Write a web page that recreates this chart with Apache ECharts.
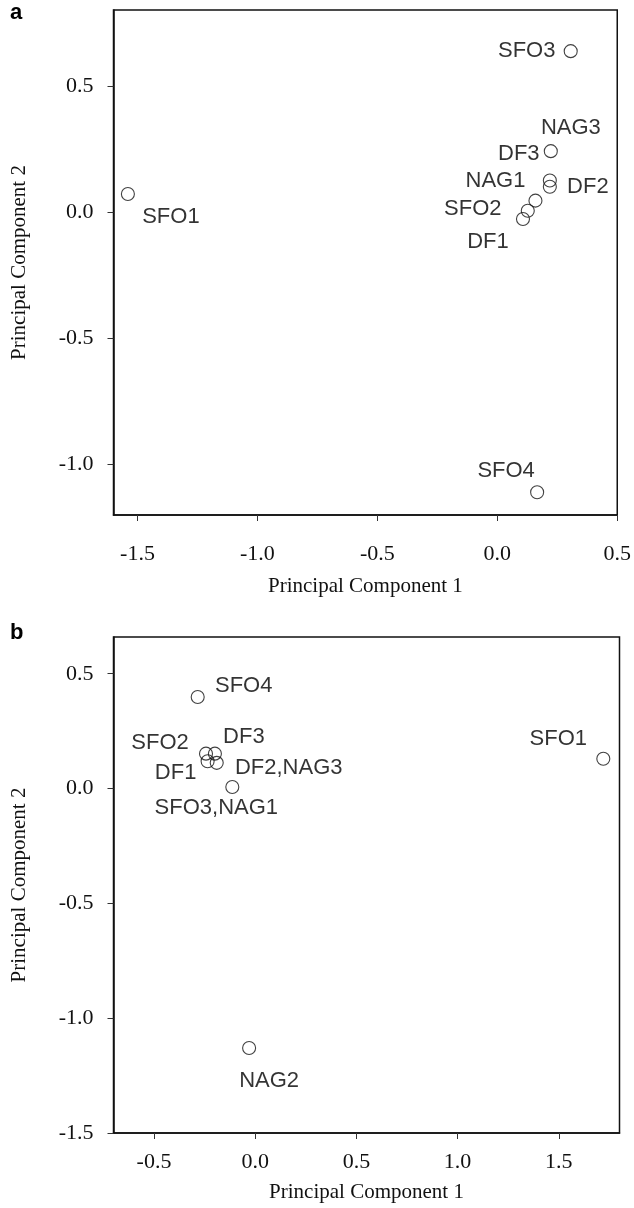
<!DOCTYPE html>
<html>
<head>
<meta charset="utf-8">
<script src="https://cdn.jsdelivr.net/npm/echarts@6/dist/echarts.min.js"></script>
<style>
  html, body { margin: 0; padding: 0; background: #fff; }
  #main { width: 634px; height: 1208px; }
</style>
</head>
<body>
<div id="main"></div>
<script>
// panel a
var aNames = ["SFO1", "SFO2", "SFO3", "SFO4", "DF1", "DF2", "DF3", "NAG1", "NAG3"];
var aPC1 = [-1.54, 0.127, 0.306, 0.166, 0.107, 0.219, 0.223, 0.159, 0.219];
var aPC2 = [0.071, 0.005, 0.637, -1.11, -0.028, 0.10, 0.241, 0.045, 0.125];
var aTicksX = [-1.5, -1.0, -0.5, 0.0, 0.5];
var aTicksY = [-1.0, -0.5, 0.0, 0.5];

// panel b
var bNames = ["SFO1", "SFO2", "SFO4", "DF1", "DF3", "DF2,NAG3", "SFO3,NAG1", "NAG2"];
var bPC1 = [1.72, -0.243, -0.284, -0.235, -0.199, -0.19, -0.113, -0.03];
var bPC2 = [0.13, 0.152, 0.399, 0.119, 0.152, 0.112, 0.007, -1.13];
var bTicksX = [-0.5, 0.0, 0.5, 1.0, 1.5];
var bTicksY = [-1.5, -1.0, -0.5, 0.0, 0.5];

// where each name sits relative to its circle (px)
var offA = {
  SFO1: [43, 23], SFO2: [-55, -2], SFO3: [-44, 0], SFO4: [-31, -21],
  DF1: [-35, 23], DF2: [38, 0], DF3: [-32, 3], NAG1: [-40, -20], NAG3: [21, -53]
};
var offB = {
  SFO1: [-45, -20], SFO2: [-46, -11], SFO4: [46, -11], DF1: [-32, 12],
  DF3: [29, -17], "DF2,NAG3": [72, 5], "SFO3,NAG1": [-16, 21], NAG2: [20, 33]
};

var serif = "Liberation Serif";
var sans = "Liberation Sans";

function points(names, xs, ys, offs) {
  var out = [];
  for (var i = 0; i < names.length; i++) {
    out.push({
      name: names[i],
      value: [xs[i], ys[i]],
      label: { offset: offs[names[i]] }
    });
  }
  return out;
}

function xAxis(idx, min, max, ticks, labelMargin, nameGap) {
  return {
    type: "value", gridIndex: idx, min: min, max: max,
    name: "Principal Component 1", nameLocation: "middle", nameGap: nameGap,
    nameTextStyle: { fontFamily: serif, fontSize: 21, color: "#111" },
    axisLine: { onZero: false, lineStyle: { color: "#111", width: 1.5 } },
    axisTick: { show: true, customValues: ticks, length: 6, lineStyle: { color: "#333" } },
    axisLabel: {
      customValues: ticks, margin: labelMargin, fontFamily: serif, fontSize: 22, color: "#111",
      formatter: function (v) { return v.toFixed(1); }
    },
    splitLine: { show: false }
  };
}

function yAxis(idx, min, max, ticks) {
  return {
    type: "value", gridIndex: idx, min: min, max: max,
    name: "Principal Component 2", nameLocation: "middle", nameGap: 84, nameRotate: 90,
    nameTextStyle: { fontFamily: serif, fontSize: 21, color: "#111" },
    axisLine: { onZero: false, lineStyle: { color: "#111", width: 1.5 } },
    axisTick: { show: true, customValues: ticks, length: 6, lineStyle: { color: "#333" } },
    axisLabel: {
      customValues: ticks, margin: 20, fontFamily: serif, fontSize: 22, color: "#111",
      formatter: function (v) { return v.toFixed(1); }
    },
    splitLine: { show: false }
  };
}

function scatter(idx, data) {
  return {
    type: "scatter", xAxisIndex: idx, yAxisIndex: idx,
    symbol: "circle", symbolSize: 13,
    itemStyle: { color: "transparent", borderColor: "#111", borderWidth: 1.1 },
    label: {
      show: true, position: "inside", align: "center", verticalAlign: "middle",
      formatter: "{b}", fontFamily: sans, fontSize: 22, color: "#000"
    },
    emphasis: { disabled: true },
    data: data
  };
}

var chart = echarts.init(document.getElementById("main"));
chart.setOption({
  animation: false,
  backgroundColor: "#fff",
  grid: [
    { left: 113.5, top: 10, width: 506.5, height: 505, show: true, borderColor: "#111", borderWidth: 1.5 },
    { left: 113.5, top: 637, width: 506, height: 496, show: true, borderColor: "#111", borderWidth: 1.5 }
  ],
  xAxis: [
    xAxis(0, -1.6, 0.5, aTicksX, 28, 61),
    xAxis(1, -0.7, 1.8, bTicksX, 18, 49)
  ],
  yAxis: [
    yAxis(0, -1.2, 0.8, aTicksY),
    yAxis(1, -1.5, 0.66, bTicksY)
  ],
  graphic: [
    { type: "text", left: 10, top: 2, style: { text: "a", font: "bold 22px " + sans, fill: "#000" } },
    { type: "text", left: 10, top: 622, style: { text: "b", font: "bold 22px " + sans, fill: "#000" } }
  ],
  series: [
    scatter(0, points(aNames, aPC1, aPC2, offA)),
    scatter(1, points(bNames, bPC1, bPC2, offB))
  ]
});
</script>
</body>
</html>
